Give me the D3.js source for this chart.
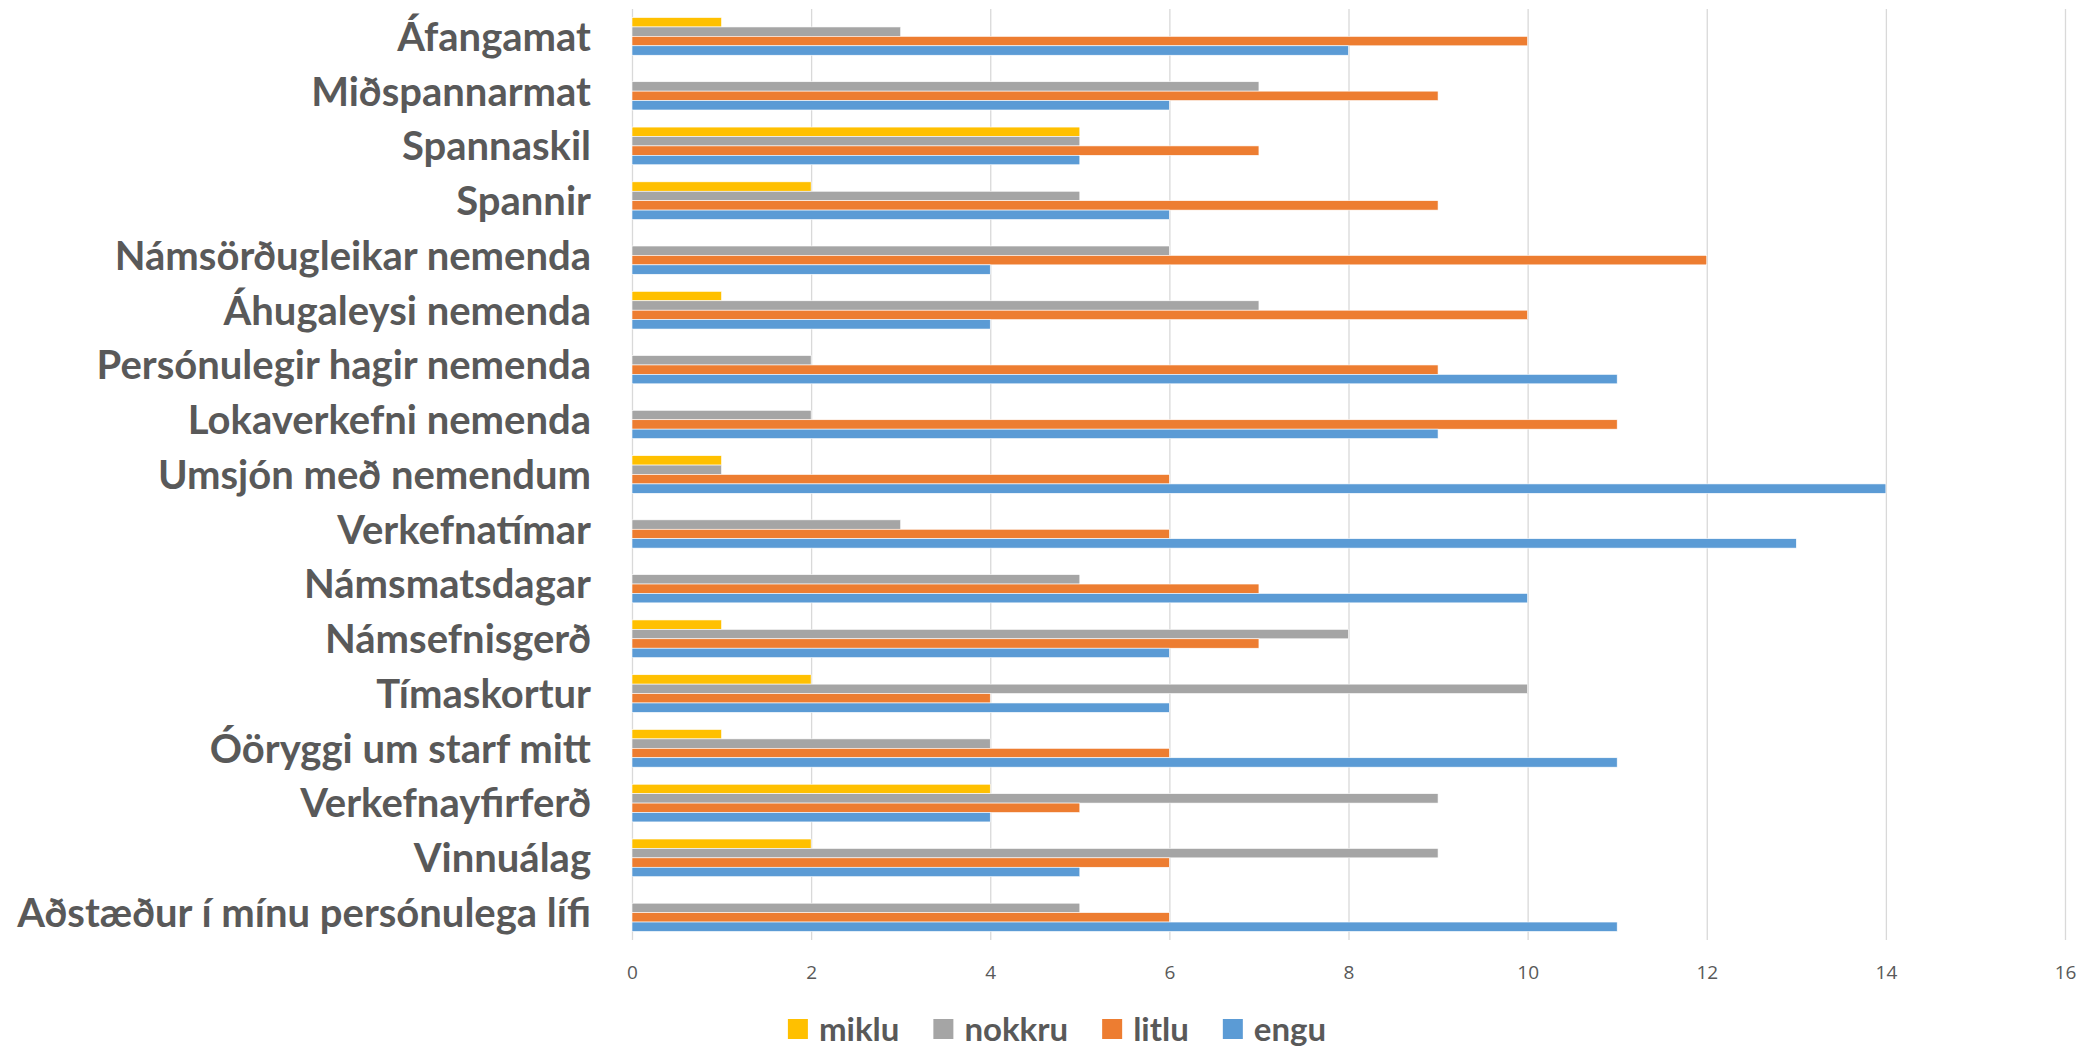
<!DOCTYPE html>
<html>
<head>
<meta charset="utf-8">
<script src="https://cdn.jsdelivr.net/npm/d3@7"></script>
<style>
  body { margin: 0; background: #fff; }
  svg { display: block; }
</style>
</head>
<body>
<div id="chart"></div>
<script>
var categories = ["Áfangamat", "Miðspannarmat", "Spannaskil", "Spannir",
    "Námsörðugleikar nemenda", "Áhugaleysi nemenda", "Persónulegir hagir nemenda",
    "Lokaverkefni nemenda", "Umsjón með nemendum", "Verkefnatímar", "Námsmatsdagar",
    "Námsefnisgerð", "Tímaskortur", "Óöryggi um starf mitt", "Verkefnayfirferð",
    "Vinnuálag", "Aðstæður í mínu persónulega lífi"]

var series_names = ["miklu", "nokkru", "litlu", "engu"]
var series_colors = ["#FFC000", "#A5A5A5", "#ED7D31", "#5B9BD5"]

var miklu  = [1, 0, 5, 2, 0, 1, 0, 0, 1, 0, 0, 1, 2, 1, 4, 2, 0]
var nokkru = [3, 7, 5, 5, 6, 7, 2, 2, 1, 3, 5, 8, 10, 4, 9, 9, 5]
var litlu  = [10, 9, 7, 9, 12, 10, 9, 11, 6, 6, 7, 7, 4, 6, 5, 6, 6]
var engu   = [8, 6, 5, 6, 4, 4, 11, 9, 14, 13, 10, 6, 6, 11, 4, 5, 11]

var x_ticks = [0, 2, 4, 6, 8, 10, 12, 14, 16]

var W = 2087, H = 1051
var p_left = 632, p_right = 2065, p_top = 9, p_bottom = 940
var text_color = "#595959"

var all_values = [miklu, nokkru, litlu, engu]
var rows = categories.map(function(c, i) {
    return { name: c, values: all_values.map(function(s, k) { return { key: series_names[k], value: s[i] } }) }
})

var svg = d3.select("#chart").append("svg")
    .attr("width", W)
    .attr("height", H)

var x = d3.scaleLinear().domain([0, 16]).range([p_left, p_right])
var y = d3.scaleBand().domain(categories).range([p_top, p_bottom]).paddingInner(0.312).paddingOuter(0.156)
var ys = d3.scaleBand().domain(series_names).range([0, y.bandwidth()])
var color = d3.scaleOrdinal().domain(series_names).range(series_colors)

// grid lines
var grid = svg.append("g")
    .attr("transform", "translate(0," + p_bottom + ")")
    .call(d3.axisBottom(x).tickValues(x_ticks).tickSize(-(p_bottom - p_top)).tickFormat(""))
grid.select(".domain").remove()
grid.selectAll("line").attr("stroke", "#D9D9D9").attr("stroke-width", 1.3)

// tick labels
var xa = svg.append("g")
    .attr("transform", "translate(0," + (p_bottom + 22) + ")")
    .call(d3.axisBottom(x).tickValues(x_ticks).tickSize(0))
xa.select(".domain").remove()
xa.selectAll("text")
    .attr("fill", text_color)
    .style("font-family", "'Open Sans', sans-serif")
    .style("font-size", "19px")

// category labels
var ya = svg.append("g")
    .attr("transform", "translate(" + (p_left - 41) + ",0)")
    .call(d3.axisLeft(y).tickSize(0))
ya.select(".domain").remove()
ya.selectAll("text")
    .attr("fill", text_color)
    .attr("x", 0)
    .attr("dy", "0.36em")
    .style("font-family", "Lato, sans-serif")
    .style("font-weight", "bold")
    .style("font-size", "40px")

// bars
var groups = svg.selectAll(".group").data(rows)
    .enter().append("g")
    .attr("class", "group")
    .attr("transform", function(d) { return "translate(0," + y(d.name) + ")" })

groups.selectAll("rect").data(function(d) { return d.values })
    .enter().append("rect")
    .attr("x", x(0))
    .attr("y", function(d) { return ys(d.key) })
    .attr("width", function(d) { return x(d.value) - x(0) })
    .attr("height", ys.bandwidth())
    .attr("fill", function(d) { return color(d.key) })
    .attr("stroke", "#fff")
    .attr("stroke-width", 0.6)
    .style("display", function(d) { return d.value > 0 ? null : "none" })

// legend
var legend = svg.append("g").attr("class", "legend")
var lx = 0
series_names.forEach(function(s) {
    var item = legend.append("g").attr("transform", "translate(" + lx + ",0)")
    item.append("rect")
        .attr("x", 0).attr("y", -10)
        .attr("width", 20).attr("height", 20)
        .attr("fill", color(s))
    var t = item.append("text")
        .attr("x", 31).attr("dy", "0.36em")
        .attr("fill", text_color)
        .style("font-family", "Lato, sans-serif")
        .style("font-weight", "bold")
        .style("font-size", "33px")
        .text(s)
    lx += 31 + t.node().getComputedTextLength() + 34
})
lx -= 34
legend.attr("transform", "translate(" + (1057 - lx / 2) + ",1029)")
</script>
</body>
</html>
